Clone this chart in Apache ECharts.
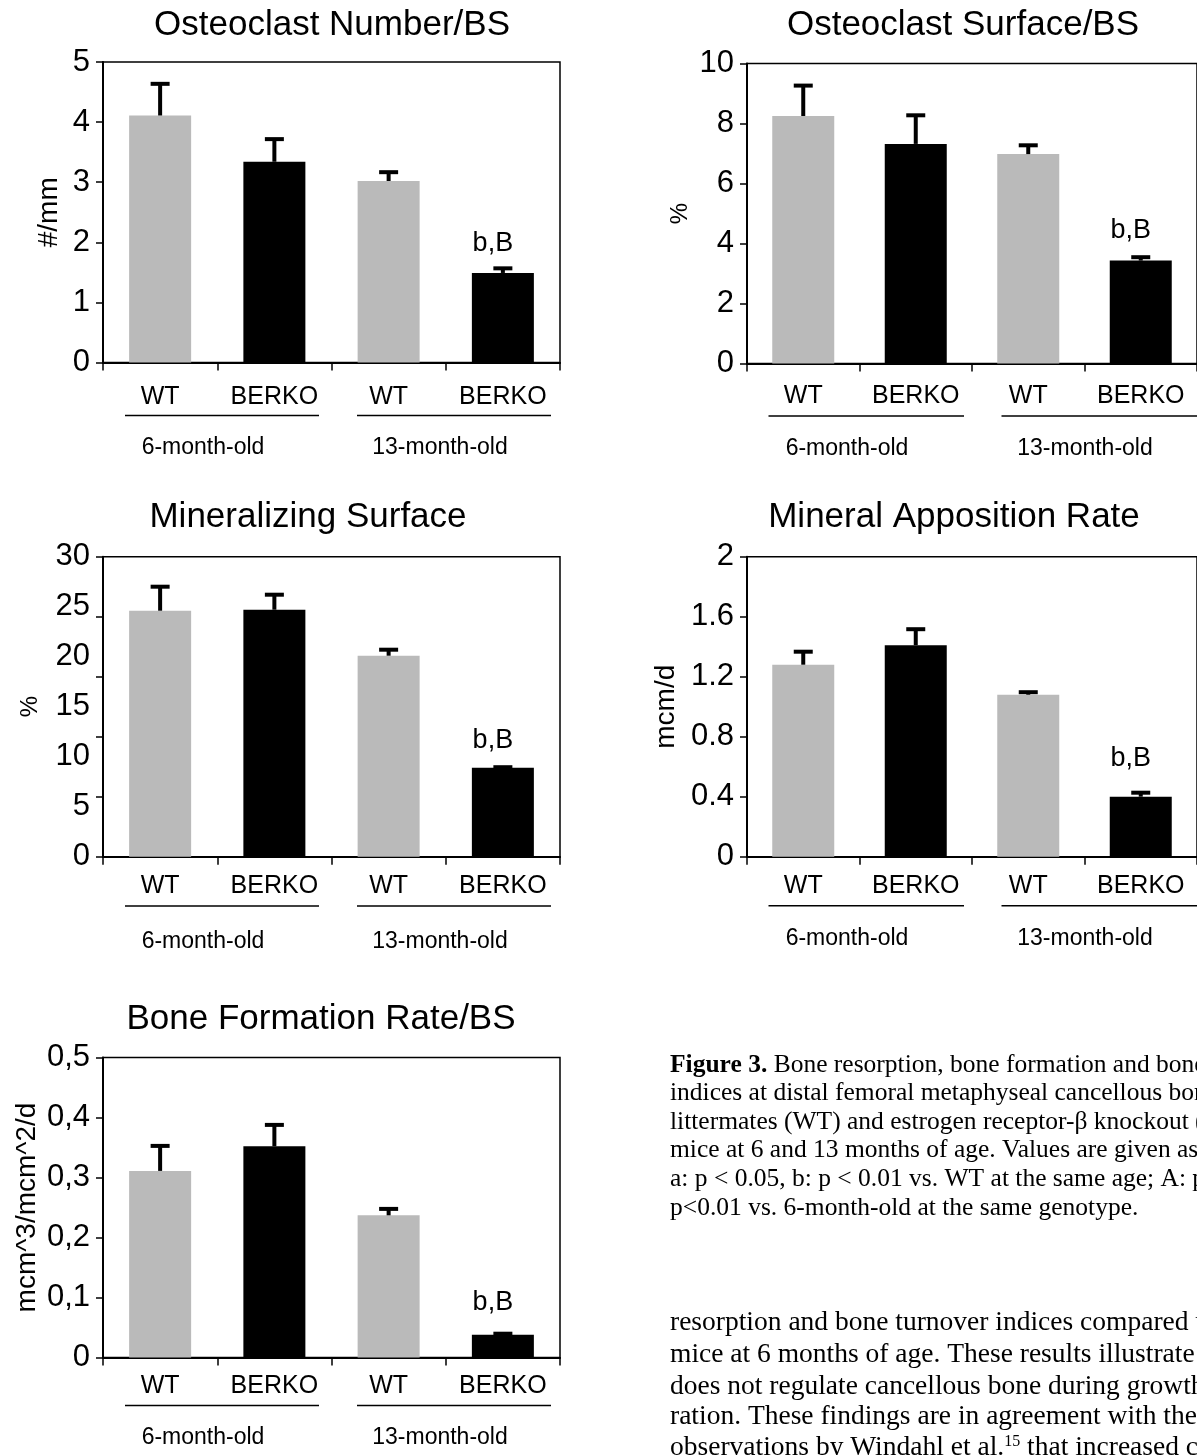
<!DOCTYPE html>
<html>
<head>
<meta charset="utf-8">
<script src="https://cdn.jsdelivr.net/npm/echarts@6/dist/echarts.min.js"></script>
<style>
html,body{margin:0;padding:0;background:#fff;overflow:hidden;}
#c{width:1197px;height:1455px;}
</style>
</head>
<body>
<div id="c"></div>
<script>
// ---------------- data ----------------
const categories = ['WT', 'BERKO', 'WT', 'BERKO'];
const groupLabels = ['6-month-old', '13-month-old'];
const barColors = ['#bababa', '#000000', '#bababa', '#000000'];
const annotations = ['', '', '', 'b,B'];

const ocNumber = [4.11, 3.34, 3.02, 1.49];
const ocNumberErr = [0.56, 0.41, 0.18, 0.11];
const ocNumberTicks = ['0', '1', '2', '3', '4', '5'];

const ocSurface = [8.25, 7.32, 6.98, 3.43];
const ocSurfaceErr = [1.08, 1.02, 0.36, 0.18];
const ocSurfaceTicks = ['0', '2', '4', '6', '8', '10'];

const minSurface = [24.6, 24.7, 20.1, 8.9];
const minSurfaceErr = [2.6, 1.7, 0.8, 0.25];
const minSurfaceTicks = ['0', '5', '10', '15', '20', '25', '30'];

const marValues = [1.28, 1.41, 1.08, 0.40];
const marErr = [0.10, 0.12, 0.03, 0.04];
const marTicks = ['0', '0.4', '0.8', '1.2', '1.6', '2'];

const bfrValues = [0.311, 0.352, 0.237, 0.038];
const bfrErr = [0.045, 0.039, 0.014, 0.005];
const bfrTicks = ['0', '0,1', '0,2', '0,3', '0,4', '0,5'];

const captionLines = [
  '{b|Figure 3.} Bone resorption, bone formation and bone turnover',
  'indices at distal femoral metaphyseal cancellous bone in wild-type',
  'littermates (WT) and estrogen receptor-β knockout (BERKO)',
  'mice at 6 and 13 months of age. Values are given as mean ± SEM.',
  'a: p < 0.05, b: p < 0.01 vs. WT at the same age; A: p < 0.05, B:',
  'p<0.01 vs. 6-month-old at the same genotype.'
];
const bodyLines = [
  'resorption and bone turnover indices compared with WT',
  'mice at 6 months of age. These results illustrate that ERβ',
  'does not regulate cancellous bone during growth and matu-',
  'ration. These findings are in agreement with the previous',
  'observations by Windahl et al.{s|15} that increased cortical'
];

// ---------------- layout ----------------
const FONT = 'Liberation Sans, Arial, Helvetica, sans-serif';
const SERIF = 'Liberation Serif, Times New Roman, serif';

const panels = [
  {title: 'Osteoclast Number/BS', values: ocNumber, errs: ocNumberErr, ticks: ocNumberTicks,
   max: 5, interval: 1, yName: '#/mm', yNameSize: 28, nameGap: 40,
   left: 103, top: 62, width: 457, height: 300.5, titleX: 332, titleY: 25,
   labelMargin: 22, annDist: 16, underY: 53, groupY: 85,
   under: [[22, 216], [254, 448]], groupX: [100, 337]},
  {title: 'Osteoclast Surface/BS', values: ocSurface, errs: ocSurfaceErr, ticks: ocSurfaceTicks,
   max: 10, interval: 2, yName: '%', yNameSize: 24, nameGap: 55,
   left: 747, top: 63.5, width: 456, height: 300, titleX: 963, titleY: 25,
   labelMargin: 20, annDist: 17, underY: 52.5, groupY: 85.5,
   under: [[21.5, 217], [254.5, 450]], groupX: [100, 338]},
  {title: 'Mineralizing Surface', values: minSurface, errs: minSurfaceErr, ticks: minSurfaceTicks,
   max: 30, interval: 5, tickInterval: 6, yName: '%', yNameSize: 24, nameGap: 61,
   left: 103, top: 556.7, width: 457, height: 300, titleX: 308, titleY: 517,
   labelMargin: 17, annDist: 14, underY: 49.3, groupY: 85,
   under: [[22, 216], [254, 448]], groupX: [100, 337]},
  {title: 'Mineral Apposition Rate', values: marValues, errs: marErr, ticks: marTicks,
   max: 2, interval: 0.4, yName: 'mcm/d', yNameSize: 28, nameGap: 67,
   left: 747, top: 556.7, width: 456, height: 300, titleX: 954, titleY: 517,
   labelMargin: 17, annDist: 25, underY: 49, groupY: 82,
   under: [[21.5, 217], [254.5, 450]], groupX: [100, 338]},
  {title: 'Bone Formation Rate/BS', values: bfrValues, errs: bfrErr, ticks: bfrTicks,
   max: 0.5, interval: 0.1, yName: 'mcm^3/mcm^2/d', yNameSize: 28, nameGap: 62,
   left: 103, top: 1057.5, width: 457, height: 300, titleX: 321, titleY: 1019,
   labelMargin: 16, annDist: 19, underY: 48, groupY: 80,
   under: [[22, 216], [254, 448]], groupX: [100, 337]}
];

// ---------------- build option ----------------
const grid = [], xAxis = [], yAxis = [], series = [], graphic = [];

function errorRender(params, api) {
  const x = api.value(0), v = api.value(1), e = api.value(2);
  const p0 = api.coord([x, v]);
  const p1 = api.coord([x, v + e]);
  const capHalf = 9.5;
  const yc = p1[1] + 2;
  return {
    type: 'group',
    children: [
      {type: 'line', shape: {x1: p0[0], y1: p0[1], x2: p0[0], y2: yc},
       style: {stroke: '#000', lineWidth: 4}},
      {type: 'line', shape: {x1: p0[0] - capHalf, y1: yc, x2: p0[0] + capHalf, y2: yc},
       style: {stroke: '#000', lineWidth: 4}}
    ]
  };
}

panels.forEach((p, i) => {
  grid.push({left: p.left, top: p.top, width: p.width, height: p.height,
    show: true, borderColor: '#000', borderWidth: 1.5, backgroundColor: 'transparent', containLabel: false});

  xAxis.push({
    type: 'category', gridIndex: i, data: categories, boundaryGap: true,
    axisLine: {show: true, lineStyle: {color: '#000', width: 2}},
    axisTick: {show: true, length: 8, alignWithLabel: false, lineStyle: {color: '#000', width: 1.5}},
    axisLabel: {color: '#000', fontSize: 25, fontFamily: FONT, margin: p.labelMargin, interval: 0},
    splitLine: {show: false}
  });

  const yMain = yAxis.length;
  yAxis.push({
    type: 'value', gridIndex: i, min: 0, max: p.max, interval: p.interval,
    position: 'left',
    axisLine: {show: true, lineStyle: {color: '#000', width: 2}},
    axisTick: {show: !p.tickInterval, length: 7, inside: false, lineStyle: {color: '#000', width: 1.5}},
    axisLabel: {color: '#000', fontSize: 31, fontFamily: FONT, margin: 13,
      formatter: (val) => {
        const idx = Math.round(val / p.interval);
        return p.ticks[idx] !== undefined ? p.ticks[idx] : String(val);
      }},
    splitLine: {show: false},
    name: p.yName, nameLocation: 'middle', nameGap: p.nameGap, nameRotate: 90,
    nameTextStyle: {color: '#000', fontSize: p.yNameSize, fontFamily: FONT}
  });
  if (p.tickInterval) {
    yAxis.push({
      type: 'value', gridIndex: i, min: 0, max: p.max, interval: p.tickInterval,
      position: 'left', offset: 0,
      axisLine: {show: false},
      axisTick: {show: true, length: 7, inside: false, lineStyle: {color: '#000', width: 1.5}},
      axisLabel: {show: false},
      splitLine: {show: false}
    });
  }

  series.push({
    type: 'bar', xAxisIndex: i, yAxisIndex: yMain, barWidth: 62,
    data: p.values.map((v, k) => ({
      value: v,
      itemStyle: {color: barColors[k]},
      label: annotations[k] ? {
        show: true, position: 'top', distance: p.annDist, offset: [-10, 0],
        formatter: annotations[k], color: '#000', fontSize: 27, fontFamily: FONT
      } : {show: false}
    })),
    z: 2
  });

  series.push({
    type: 'custom', xAxisIndex: i, yAxisIndex: yMain,
    renderItem: errorRender,
    data: p.values.map((v, k) => [k, v, p.errs[k]]),
    z: 3, silent: true
  });

  // title
  graphic.push({type: 'text', x: p.titleX, y: p.titleY,
    style: {text: p.title, fill: '#000', font: '35px ' + FONT, align: 'center', verticalAlign: 'middle'}});

  const axisY = p.top + p.height;
  // group underlines and labels
  p.under.forEach((u, g) => {
    graphic.push({type: 'line',
      shape: {x1: p.left + u[0], y1: axisY + p.underY, x2: p.left + u[1], y2: axisY + p.underY},
      style: {stroke: '#000', lineWidth: 1.6}});
    graphic.push({type: 'text', x: p.left + p.groupX[g], y: axisY + p.groupY,
      style: {text: groupLabels[g], fill: '#000', font: '23px ' + FONT, align: 'center', verticalAlign: 'middle'}});
  });
});

// caption
const capY = [1065, 1093.5, 1122, 1150.5, 1179, 1208];
captionLines.forEach((t, k) => {
  graphic.push({type: 'text', x: 670, y: capY[k],
    style: {text: t, fill: '#000', font: '25.5px ' + SERIF, verticalAlign: 'middle',
      rich: {b: {fontWeight: 'bold', fontSize: 25.5, fontFamily: SERIF, fill: '#000'}}}});
});
const bodyY = [1323, 1355, 1386.5, 1417, 1448];
bodyLines.forEach((t, k) => {
  graphic.push({type: 'text', x: 670, y: bodyY[k],
    style: {text: t, fill: '#000', font: '27.5px ' + SERIF, verticalAlign: 'middle',
      rich: {s: {fontSize: 16, fontFamily: SERIF, fill: '#000', verticalAlign: 'top', padding: [0, 0, 12, 0]}}}});
});

const chart = echarts.init(document.getElementById('c'), null, {renderer: 'canvas'});
chart.setOption({
  animation: false,
  backgroundColor: '#ffffff',
  textStyle: {fontFamily: FONT},
  grid, xAxis, yAxis, series, graphic
});
</script>
</body>
</html>
